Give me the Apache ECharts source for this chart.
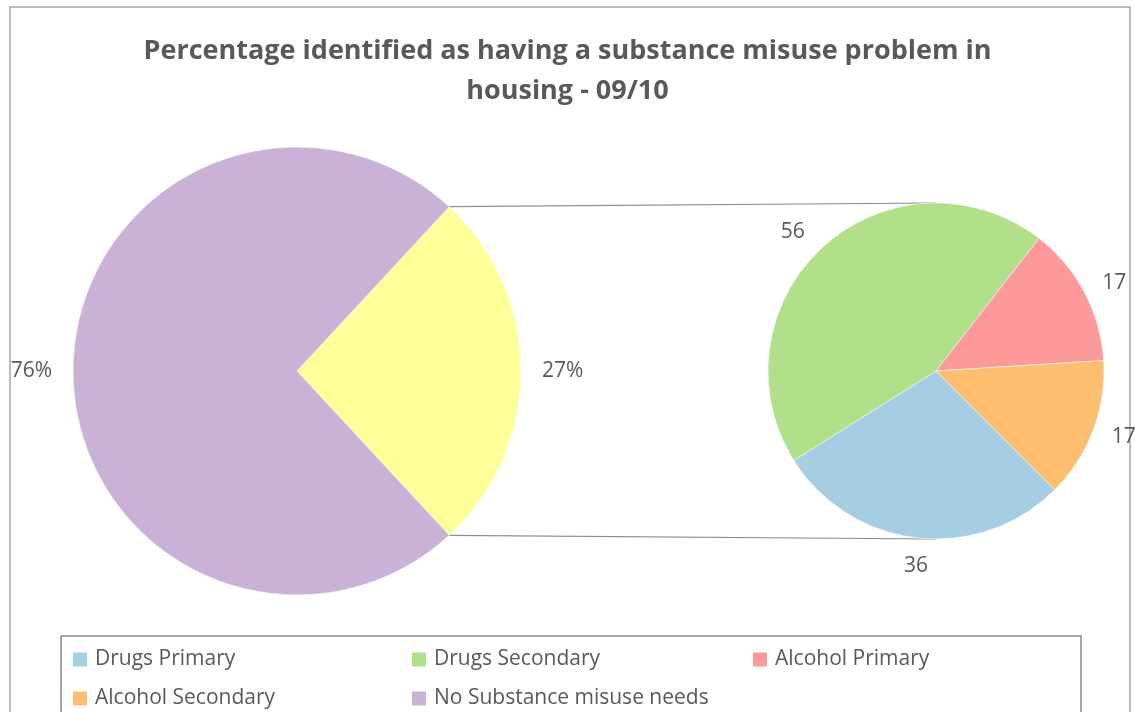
<!DOCTYPE html>
<html>
<head>
<meta charset="utf-8">
<script src="https://cdn.jsdelivr.net/npm/echarts@6/dist/echarts.min.js"></script>
<style>
  html, body { margin: 0; padding: 0; background: #fff; }
  #chart { width: 1135px; height: 712px; }
</style>
</head>
<body>
<div id="chart"></div>
<script>
// Chart text
const titleLines = ['Percentage identified as having a substance misuse problem in', 'housing - 09/10'];

// Main pie: share with / without a substance misuse problem (%)
const primaryNames = ['Substance misuse', 'No Substance misuse needs'];
const primaryValues = [27, 76];

// Breakdown pie: people with a substance misuse problem
const secondaryNames = ['Drugs Primary', 'Drugs Secondary', 'Alcohol Primary', 'Alcohol Secondary'];
const secondaryValues = [36, 56, 17, 17];

// Legend entries, row by row
const legendNames = ['Drugs Primary', 'Drugs Secondary', 'Alcohol Primary', 'Alcohol Secondary', 'No Substance misuse needs'];

const FONT = "'Open Sans', 'Liberation Sans', sans-serif";
const TEXT_COLOR = '#595959';

const primaryColors = ['#FFFF99', '#CAB2D6'];
const secondaryColors = ['#A6CEE3', '#B2DF8A', '#FB9A99', '#FDBF6F'];

// Layout of the two pies
const c1 = [297, 371], r1 = 224;
const c2 = [936, 371], r2 = 168;

// The breakout slice is centred on 3 o'clock
const primaryTotal = primaryValues.reduce((a, b) => a + b, 0);
const primaryStart = primaryValues[0] / primaryTotal * 180;
const secondaryStart = 315;

const rad = primaryStart * Math.PI / 180;
const edgeTop = [c1[0] + r1 * Math.cos(rad), c1[1] - r1 * Math.sin(rad)];
const edgeBottom = [c1[0] + r1 * Math.cos(rad), c1[1] + r1 * Math.sin(rad)];

const legendSlots = [
  [71, 649], [410, 649], [751, 649],
  [71, 688], [410, 688]
];

const chart = echarts.init(document.getElementById('chart'), null, { renderer: 'canvas' });

const labelStyle = {
  show: true,
  position: 'outside',
  fontFamily: FONT,
  fontSize: 21,
  color: TEXT_COLOR
};

chart.setOption({
  animation: false,
  backgroundColor: '#ffffff',
  title: {
    text: titleLines.join('\n'),
    left: 'center',
    top: 26,
    textStyle: {
      fontFamily: FONT,
      fontWeight: 'bold',
      fontSize: 27,
      lineHeight: 40,
      color: TEXT_COLOR
    }
  },
  legend: legendNames.map((name, i) => ({
    data: [name],
    left: legendSlots[i][0],
    top: legendSlots[i][1],
    orient: 'horizontal',
    icon: 'rect',
    itemWidth: 16,
    itemHeight: 16,
    itemGap: 0,
    padding: 0,
    selectedMode: false,
    textStyle: { fontFamily: FONT, fontSize: 21, color: TEXT_COLOR, padding: [0, 0, 0, 2] }
  })),
  graphic: [
    {
      type: 'rect', silent: true, z: -1,
      shape: { x: 10, y: 7, width: 1120, height: 730 },
      style: { fill: 'none', stroke: '#a6a6a6', lineWidth: 1.5 }
    },
    {
      type: 'rect', silent: true, z: -1,
      shape: { x: 61, y: 636, width: 1020, height: 120 },
      style: { fill: 'none', stroke: '#8c8c8c', lineWidth: 1.5 }
    },
    {
      type: 'line', silent: true,
      shape: { x1: edgeTop[0], y1: edgeTop[1], x2: c2[0], y2: c2[1] - r2 },
      style: { stroke: '#8c8c8c', lineWidth: 1.2 }
    },
    {
      type: 'line', silent: true,
      shape: { x1: edgeBottom[0], y1: edgeBottom[1], x2: c2[0], y2: c2[1] + r2 },
      style: { stroke: '#8c8c8c', lineWidth: 1.2 }
    }
  ],
  series: [
    {
      type: 'pie',
      center: c1,
      radius: r1,
      startAngle: primaryStart,
      clockwise: true,
      avoidLabelOverlap: false,
      silent: true,
      data: primaryNames.map((n, i) => ({ name: n, value: primaryValues[i], itemStyle: { color: primaryColors[i] } })),
      itemStyle: { borderColor: '#ffffff', borderWidth: 0.5 },
      label: Object.assign({}, labelStyle, { formatter: '{c}%' }),
      labelLine: { show: false, length: 10, length2: 6 }
    },
    {
      type: 'pie',
      center: c2,
      radius: r2,
      startAngle: secondaryStart,
      clockwise: true,
      avoidLabelOverlap: false,
      silent: true,
      data: secondaryNames.map((n, i) => ({ name: n, value: secondaryValues[i], itemStyle: { color: secondaryColors[i] } })),
      itemStyle: { borderColor: '#ffffff', borderWidth: 0.5 },
      label: Object.assign({}, labelStyle, { formatter: '{c}' }),
      labelLine: { show: false, length: 20, length2: 0 },
      labelLayout: function (p) {
        // bottom label sits centred a little lower under its slice
        if (p.dataIndex === 0) return { align: 'center', dx: 6, dy: 8 };
        if (p.dataIndex === 2 || p.dataIndex === 3) return { dx: -5 };
        return {};
      }
    }
  ]
});
</script>
</body>
</html>
